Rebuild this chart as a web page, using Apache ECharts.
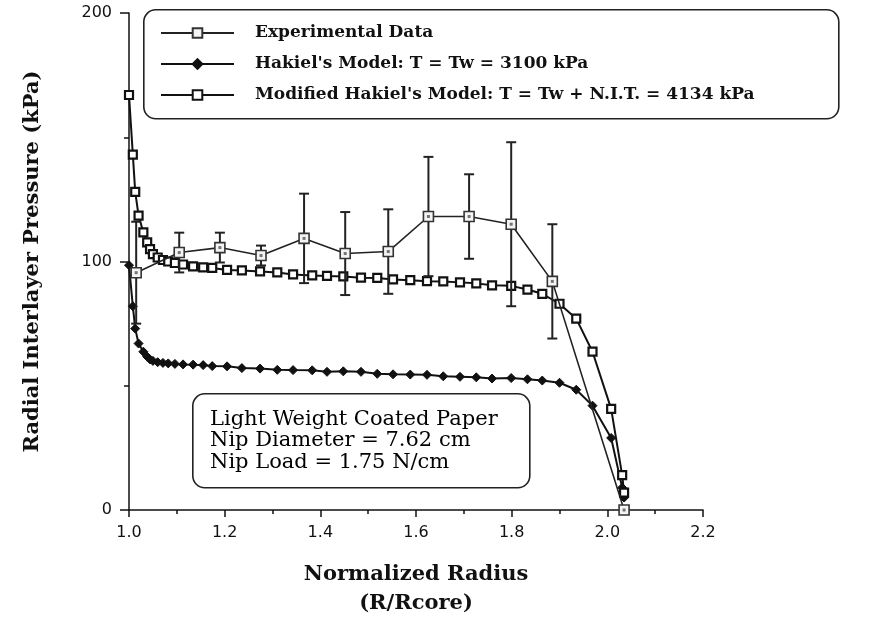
<!DOCTYPE html>
<html>
<head>
<meta charset="utf-8">
<script src="https://cdn.jsdelivr.net/npm/echarts@6/dist/echarts.min.js"></script>
<style>
  html, body { margin: 0; padding: 0; background: #fff; }
  #chart { width: 895px; height: 617px; }
</style>
</head>
<body>
<div id="chart"></div>
<script>
// Normalized radius (R/Rcore) at which both winding models are evaluated
const modelRadius = [
  1.000, 1.008, 1.013, 1.020, 1.030, 1.038, 1.044, 1.050, 1.060, 1.071,
  1.082, 1.096, 1.113, 1.134, 1.155, 1.174, 1.205, 1.236, 1.274, 1.310,
  1.343, 1.383, 1.414, 1.448, 1.485, 1.519, 1.552, 1.588, 1.623, 1.657,
  1.692, 1.726, 1.759, 1.799, 1.833, 1.864, 1.900, 1.935, 1.969, 2.008,
  2.031, 2.035
];

// Hakiel's model, T = Tw = 3100 kPa (kPa)
const hakielPressure = [
  98.5, 82.0, 73.0, 67.0, 63.7, 61.7, 60.6, 60.0, 59.5, 59.2,
  59.0, 58.8, 58.6, 58.5, 58.3, 57.9, 57.8, 57.1, 56.9, 56.4,
  56.3, 56.2, 55.6, 55.8, 55.6, 54.8, 54.6, 54.5, 54.4, 53.8,
  53.6, 53.4, 52.9, 53.1, 52.6, 52.1, 51.2, 48.4, 42.0, 29.0,
  9.0, 5.0
];

// Modified Hakiel's model, T = Tw + N.I.T. = 4134 kPa (kPa)
const modifiedPressure = [
  167.0, 143.0, 128.0, 118.5, 111.7, 107.7, 105.0, 103.0, 101.6, 100.6,
  100.0, 99.4, 98.8, 98.0, 97.6, 97.4, 96.6, 96.4, 96.0, 95.6,
  94.8, 94.4, 94.2, 94.0, 93.5, 93.4, 92.8, 92.5, 92.1, 92.0,
  91.6, 91.2, 90.4, 90.2, 88.7, 87.0, 83.0, 77.0, 63.7, 40.7,
  14.0, 7.0
];

// Measured interlayer pressure with +/- spread
const expRadius   = [1.015, 1.105, 1.190, 1.276, 1.366, 1.452, 1.542, 1.626, 1.711, 1.799, 1.885, 2.035];
const expPressure = [95.5, 103.6, 105.6, 102.4, 109.3, 103.2, 104.0, 118.1, 118.1, 115.0, 92.0, 0.0];
const expSpread   = [20.5, 8.0, 6.0, 4.0, 18.0, 16.7, 17.0, 24.0, 17.0, 33.0, 23.0, 0.0];

const seriesNames = [
  'Experimental Data',
  "Hakiel's Model: T = Tw = 3100 kPa",
  "Modified Hakiel's Model: T = Tw + N.I.T. = 4134 kPa"
];

const noteLines = [
  'Light Weight Coated Paper',
  'Nip Diameter = 7.62 cm',
  'Nip Load = 1.75 N/cm'
];

const xTitle = 'Normalized Radius\n(R/Rcore)';
const yTitle = 'Radial Interlayer Pressure (kPa)';

const SERIF = "'DejaVu Serif', 'Liberation Serif', serif";
const SANS = "'DejaVu Sans', 'Liberation Sans', sans-serif";
const INK = '#111';

const zip = (xs, ys) => xs.map((x, i) => [x, ys[i]]);

const chart = echarts.init(document.getElementById('chart'), null, { renderer: 'canvas' });

const option = {
  animation: false,
  backgroundColor: '#fff',
  grid: {
    left: 129, right: 192, top: 13, bottom: 107,
    containLabel: false, outerBoundsMode: 'none'
  },
  xAxis: {
    type: 'value',
    min: 1.0, max: 2.2, interval: 0.2,
    name: xTitle,
    nameLocation: 'middle',
    nameGap: 50,
    nameTextStyle: { fontFamily: SERIF, fontWeight: 'bold', fontSize: 21, color: INK, lineHeight: 29 },
    axisLine: { show: true, lineStyle: { color: INK, width: 1.5 } },
    axisTick: { show: true, inside: false, length: 7, lineStyle: { color: INK, width: 1.5 } },
    minorTick: { show: true, splitNumber: 2, length: 4, lineStyle: { color: INK, width: 1.5 } },
    splitLine: { show: false },
    axisLabel: {
      margin: 15, fontFamily: SANS, fontSize: 16, color: INK,
      formatter: v => v.toFixed(1)
    }
  },
  yAxis: {
    type: 'value',
    min: 0, max: 200, interval: 100,
    name: yTitle,
    nameLocation: 'middle',
    nameGap: 86,
    nameTextStyle: { fontFamily: SERIF, fontWeight: 'bold', fontSize: 21, color: INK },
    axisLine: { show: true, lineStyle: { color: INK, width: 1.5 } },
    axisTick: { show: true, inside: false, length: 9, lineStyle: { color: INK, width: 1.5 } },
    minorTick: { show: true, splitNumber: 2, length: 5, lineStyle: { color: INK, width: 1.5 } },
    splitLine: { show: false },
    axisLabel: { margin: 17, fontFamily: SANS, fontSize: 16, color: INK }
  },
  legend: {
    orient: 'vertical',
    left: 155, top: 18,
    itemWidth: 73, itemHeight: 12, itemGap: 11,
    selectedMode: false,
    data: seriesNames,
    textStyle: {
      fontFamily: SERIF, fontWeight: 'bold', fontSize: 17, color: INK,
      lineHeight: 20, padding: [0, 0, 0, 16]
    },
    z: 10
  },
  graphic: [
    {
      type: 'rect', left: 143, top: 9, z: 5,
      shape: { width: 695, height: 109, r: 12 },
      style: { fill: '#fff', stroke: '#222', lineWidth: 1.6 }
    },
    {
      type: 'group', z: 5,
      children: [
        {
          type: 'rect', left: 192, top: 393,
          shape: { width: 337, height: 94, r: 12 },
          style: { fill: '#fff', stroke: '#222', lineWidth: 1.6 }
        }
      ].concat(noteLines.map((t, i) => ({
        type: 'text', left: 210, top: 409 + i * 21.5,
        style: { text: t, font: `normal 21px ${SERIF}`, fill: '#000' }
      })))
    }
  ],
  series: [
    {
      name: seriesNames[1],
      type: 'line',
      data: zip(modelRadius, hakielPressure),
      symbol: 'diamond', symbolSize: 9,
      showSymbol: true, showAllSymbol: true,
      lineStyle: { color: INK, width: 2 },
      itemStyle: { color: INK, borderColor: INK, borderWidth: 1 },
      z: 3
    },
    {
      name: seriesNames[2],
      type: 'line',
      data: zip(modelRadius, modifiedPressure),
      symbol: 'rect', symbolSize: 8,
      showSymbol: true, showAllSymbol: true,
      lineStyle: { color: INK, width: 2 },
      itemStyle: { color: '#fff', borderColor: INK, borderWidth: 2.2 },
      z: 3
    },
    {
      name: 'spread',
      type: 'custom',
      data: expRadius.map((r, i) => [r, expPressure[i], expSpread[i]]),
      renderItem: (params, api) => {
        const x = api.value(0), y = api.value(1), e = api.value(2);
        if (!e) return null;
        const top = api.coord([x, y + e]);
        const bot = api.coord([x, y - e]);
        const hw = 5;
        const st = { stroke: '#222', lineWidth: 2 };
        return {
          type: 'group',
          children: [
            { type: 'line', shape: { x1: top[0], y1: top[1], x2: bot[0], y2: bot[1] }, style: st },
            { type: 'line', shape: { x1: top[0] - hw, y1: top[1], x2: top[0] + hw, y2: top[1] }, style: st },
            { type: 'line', shape: { x1: bot[0] - hw, y1: bot[1], x2: bot[0] + hw, y2: bot[1] }, style: st }
          ]
        };
      },
      silent: true,
      z: 4
    },
    {
      name: seriesNames[0],
      type: 'line',
      data: zip(expRadius, expPressure),
      symbol: 'rect', symbolSize: 10,
      showSymbol: true, showAllSymbol: true,
      lineStyle: { color: '#222', width: 1.6 },
      itemStyle: { color: '#f4f4f4', borderColor: '#333', borderWidth: 1.6 },
      z: 5
    },
    {
      name: 'centre',
      type: 'scatter',
      data: zip(expRadius, expPressure),
      symbol: 'rect', symbolSize: 3,
      itemStyle: { color: '#555' },
      silent: true,
      z: 6
    }
  ]
};

chart.setOption(option);
</script>
</body>
</html>
